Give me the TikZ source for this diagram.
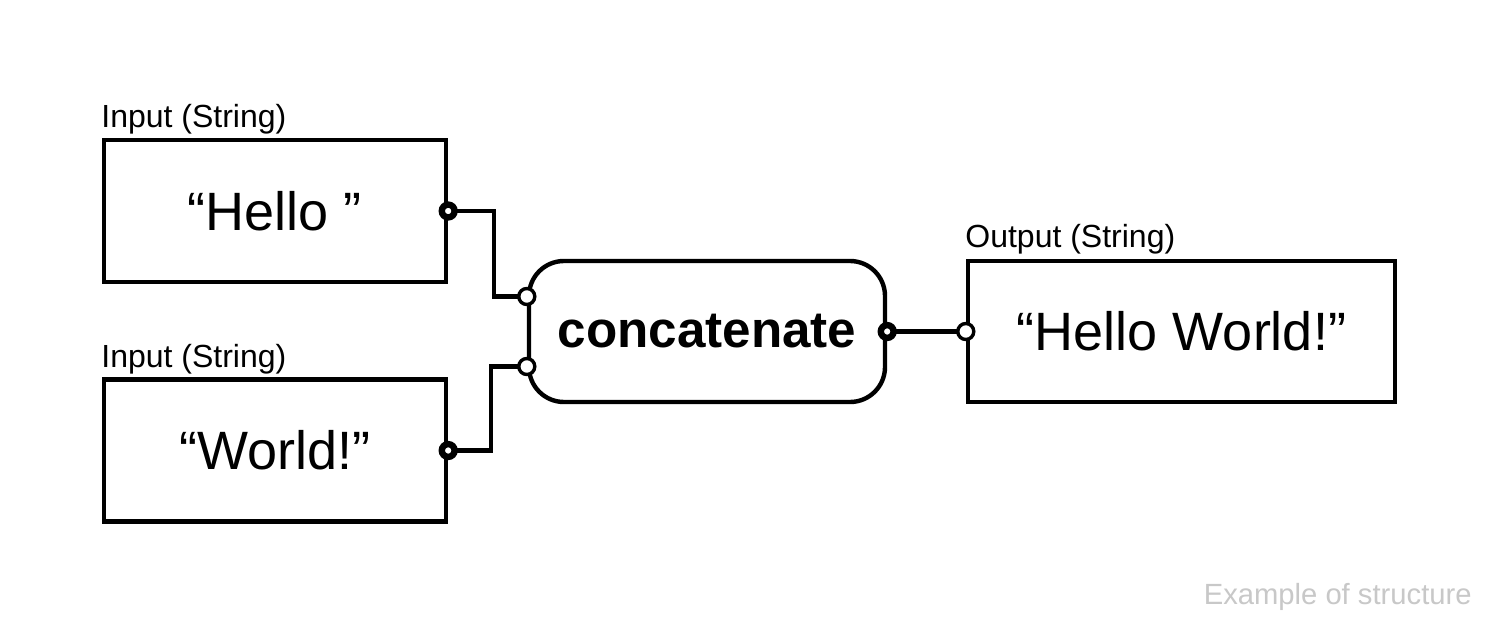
\documentclass[tikz,border=0pt]{standalone}
\usepackage{fontspec}
\setmainfont{Liberation Sans}
\usetikzlibrary{calc}
\definecolor{footgray}{RGB}{200,200,200}
\begin{document}
\begin{tikzpicture}[x=0.5pt,y=-0.5pt,
  valbox/.style={draw=black, line width=2.2pt, fill=white, minimum width=171pt, minimum height=71pt, inner sep=0pt, font=\fontsize{27}{32}\selectfont},
  outbox/.style={valbox, minimum width=213.5pt, minimum height=70.5pt},
  fnbox/.style={draw=black, line width=2.2pt, fill=white, rounded corners=17.5pt, minimum width=178pt, minimum height=70.5pt, inner sep=0pt, font=\fontsize{25.6}{30}\selectfont\bfseries},
  lbl/.style={inner sep=0pt, font=\fontsize{16}{19}\selectfont},
  foot/.style={inner sep=0pt, text=footgray, font=\fontsize{14.6}{18}\selectfont},
  wire/.style={draw=black, line width=2.2pt},
  portfull/.style={draw=black, fill=white, line width=3.2pt},
  portring/.style={draw=black, fill=white, line width=1.7pt}
]
\useasboundingbox (0,0) rectangle (1500,626);
\fill[white] (0,0) rectangle (1500,626);

\node[valbox] (in1) at (275,211) {“Hello ”};
\node[valbox] (in2) at (275,450.5) {“World!”};
\node[fnbox] (cat) at (707,331.5) {concatenate};
\node[outbox] (out) at (1181.5,331.5) {“Hello World!”};

\node[lbl, anchor=base west] (l1) at (101,127) {Input (String)};
\node[lbl, anchor=base west] (l2) at (101,367) {Input (String)};
\node[lbl, anchor=base west] (l3) at (965,248) {Output (String)};
\node[foot, anchor=base east] (ft) at (1472,604) {Example of structure};

\coordinate (c1) at ([yshift=17.5pt]cat.west);
\coordinate (c2) at ([yshift=-17.5pt]cat.west);

\draw[wire] (in1.east) -- ++(46,0) |- (c1);
\draw[wire] (in2.east) -- ++(43,0) |- (c2);
\draw[wire] (cat.east) -- (out.west);

\draw[portfull] (in1.east) circle[radius=3.2pt];
\draw[portfull] (in2.east) circle[radius=3.2pt];
\draw[portfull] (cat.east) circle[radius=3.2pt];
\draw[portring] (c1) circle[radius=4pt];
\draw[portring] (c2) circle[radius=4pt];
\draw[portring] (out.west) circle[radius=4pt];
\end{tikzpicture}
\end{document}
